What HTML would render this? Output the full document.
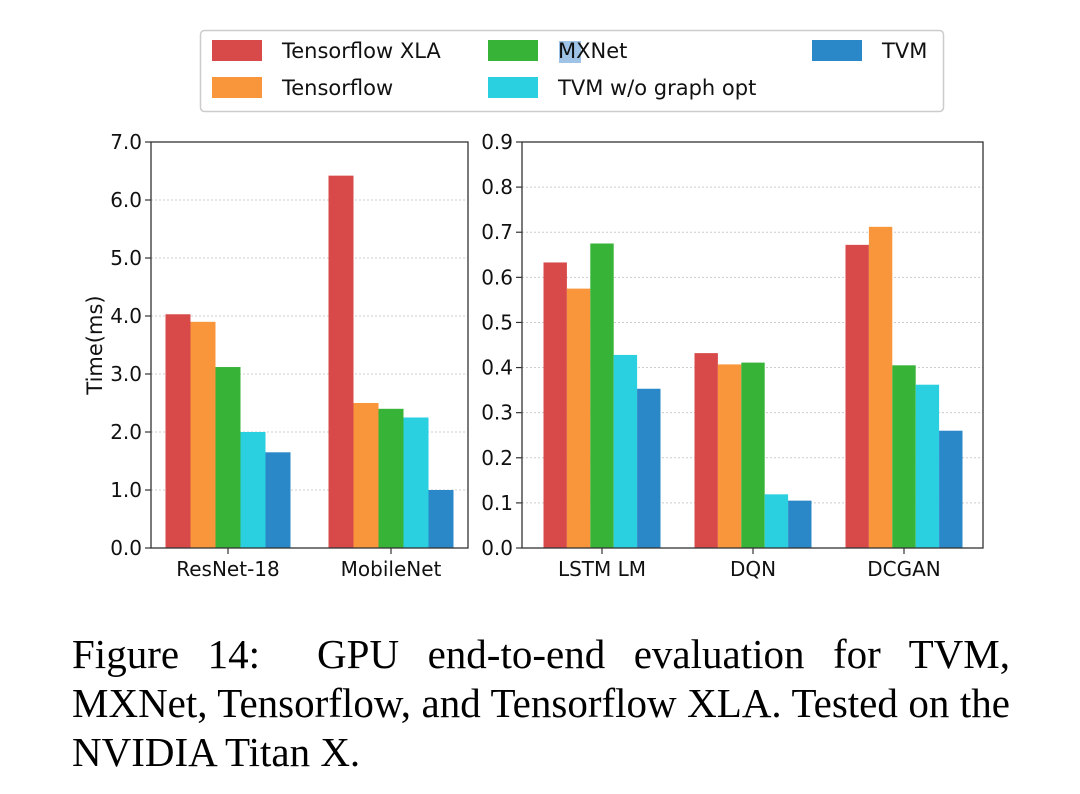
<!DOCTYPE html>
<html><head><meta charset="utf-8">
<style>
body{margin:0;background:#fff;width:1080px;height:794px;overflow:hidden;font-family:"DejaVu Sans","Liberation Sans",sans-serif;}
svg{position:absolute;left:0;top:0}
.cap{position:absolute;left:72px;top:630px;width:938px;font-family:"Liberation Serif",serif;font-size:41px;line-height:49px;color:#000}
.cap div{white-space:nowrap}
.j{text-align:justify;text-align-last:justify;white-space:normal!important}
</style></head><body>
<svg id="chart" width="1080" height="620"></svg>
<div class="cap">
<div class="j">Figure 14:&nbsp; GPU end-to-end evaluation for TVM,</div>
<div class="j">MXNet, Tensorflow, and Tensorflow XLA. Tested on the</div>
<div>NVIDIA Titan X.</div>
</div>
<script>
const seriesNames=["Tensorflow XLA","Tensorflow","MXNet","TVM w/o graph opt","TVM"];
const colors=["#d84a4a","#f9963c","#37b337","#2acfe0","#2a87c8"];
const leftCats=["ResNet-18","MobileNet"];
const leftVals=[[4.03,6.42],[3.9,2.5],[3.12,2.4],[2.0,2.25],[1.65,1.0]];
const leftTicks=["0.0","1.0","2.0","3.0","4.0","5.0","6.0","7.0"];
const rightCats=["LSTM LM","DQN","DCGAN"];
const rightVals=[[0.633,0.432,0.672],[0.575,0.407,0.712],[0.675,0.411,0.405],[0.428,0.119,0.362],[0.353,0.105,0.26]];
const rightTicks=["0.0","0.1","0.2","0.3","0.4","0.5","0.6","0.7","0.8","0.9"];

const svg=document.getElementById('chart');
const NS="http://www.w3.org/2000/svg";
function mk(t,a){const e=document.createElementNS(NS,t);for(const k in a)e.setAttribute(k,a[k]);svg.appendChild(e);return e;}

function panel(name,x0,x1,y0,y1,cats,vals,ticks,ymax,c0,spacing,bw){
  const ys=v=>y1-(v/ymax)*(y1-y0);
  ticks.forEach((t,i)=>{
    const v=parseFloat(t),y=ys(v);
    if(v>0&&v<ymax){const g=mk('line',{x1:x0,x2:x1,y1:y,y2:y,stroke:'#ccc','stroke-width':1,'stroke-dasharray':'2,2'});
      }
    const tk=mk('line',{x1:x0-6,x2:x0,y1:y,y2:y,stroke:'#333','stroke-width':1.2});
    
    const tx=mk('text',{x:x0-9,y:y+7,'text-anchor':'end','font-size':20,fill:'#111'});tx.textContent=t;
    
  });
  const n=vals.length;
  cats.forEach((c,ci)=>{
    const cx=c0+ci*spacing;
    vals.forEach((s,si)=>{
      const x=cx+(si-(n-1)/2)*bw-bw/2,y=ys(s[ci]);
      const r=mk('rect',{x:x,y:y,width:bw,height:y1-y,fill:colors[si]});
      
      
    });
    const tk=mk('line',{x1:cx,x2:cx,y1:y1,y2:y1+6,stroke:'#333','stroke-width':1.2});
    
    const tx=mk('text',{x:cx,y:y1+28,'text-anchor':'middle','font-size':20,fill:'#111'});tx.textContent=c;
    
  });
  const f=mk('rect',{x:x0,y:y0,width:x1-x0,height:y1-y0,fill:'none',stroke:'#333','stroke-width':1.3});
  
}
panel('left-panel',151,468,142,548,leftCats,leftVals,leftTicks,7,228,163,25);
panel('right-panel',522,983,142,548,rightCats,rightVals,rightTicks,0.9,602,151,23.4);

const yl=mk('text',{x:0,y:0,transform:'translate(102,345) rotate(-90)','text-anchor':'middle','font-size':21,fill:'#111'});
yl.textContent='Time(ms)';



const lb=mk('rect',{x:200.5,y:30.5,width:743,height:81,rx:4,fill:'#fff',stroke:'#ccc','stroke-width':1.5});


const lpos=[[212,40],[212,77],[488,40],[488,77],[812,40]];
const order=[0,1,2,3,4];
const hl=mk('rect',{x:559,y:41,width:22,height:22,fill:'#9ec3e6'});


order.forEach(si=>{
  const [x,y]=lpos[si];
  const p=mk('rect',{x:x,y:y,width:50,height:21,fill:colors[si]});
  
  
  const t=mk('text',{x:x+70,y:y+18,'font-size':21,fill:'#111'});t.textContent=seriesNames[si];
  
  
});
</script>
</body></html>
